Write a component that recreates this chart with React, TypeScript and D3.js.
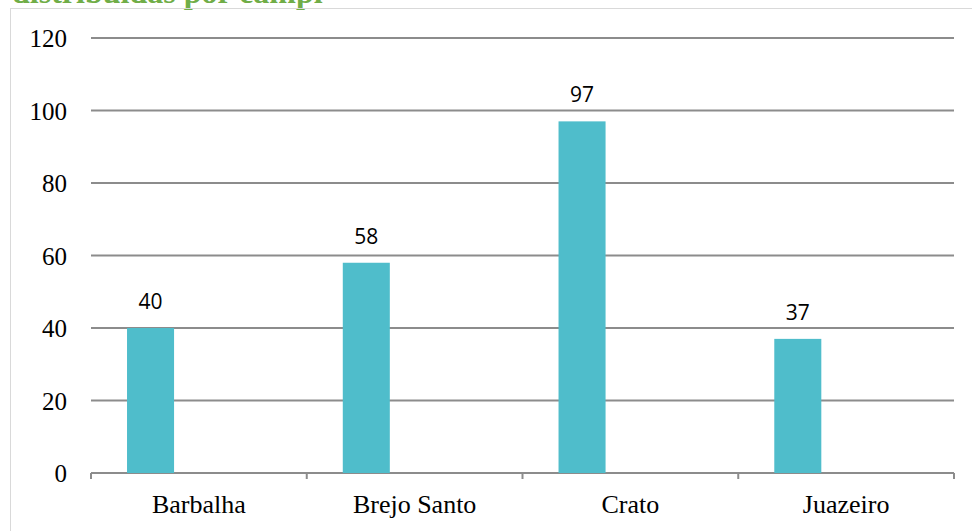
import React from "react";
import * as d3 from "d3";

const categories = ["Barbalha", "Brejo Santo", "Crato", "Juazeiro"];
const values = [40, 58, 97, 37];
const yTicks = [0, 20, 40, 60, 80, 100, 120];
const titleText = "distribuídas por campi";

export default function App() {
  const W = 972, H = 531;
  const left = 91, right = 954, top = 38, bottom = 473;
  const x = d3.scaleBand<string>().domain(categories).range([left, right]);
  const y = d3.scaleLinear().domain([0, 120]).range([bottom, top]);
  const bw = x.bandwidth();
  const barOff = bw * 0.167;
  const barW = bw * 0.218;
  return (
    <svg width={W} height={H} style={{ position: "absolute", left: 0, top: 0, background: "#fff" }}>
      <rect x={0} y={0} width={W} height={H} fill="#fff" />
      <text x={12} y={3} fill="#70ad47" fontFamily="Liberation Serif" fontWeight="bold" fontSize={32}>{titleText}</text>
      <rect x={10.5} y={8.5} width={980} height={540} fill="none" stroke="#d9d9d9" strokeWidth={1} />
      {yTicks.map((t) => (
        <g key={t}>
          <line x1={left} x2={right} y1={y(t)} y2={y(t)} stroke="#8c8c8c" strokeWidth={2} />
          <text x={67} y={y(t) + 9} textAnchor="end" fontFamily="Liberation Serif" fontSize={25} fill="#000">{t}</text>
        </g>
      ))}
      {[...categories.map((c) => x(c)!), right].map((p, i) => (
        <line key={i} x1={p} x2={p} y1={bottom} y2={bottom + 6} stroke="#8c8c8c" strokeWidth={2} />
      ))}
      {categories.map((c, i) => {
        const bx = x(c)! + barOff;
        return (
          <g key={c}>
            <rect x={bx} y={y(values[i])} width={barW} height={bottom - y(values[i])} fill="#4fbdcb" />
            <text x={bx + barW / 2} y={y(values[i]) - 19} textAnchor="middle" fontFamily="Open Sans" fontSize={21} fill="#000">{values[i]}</text>
            <text x={x(c)! + bw / 2} y={513} textAnchor="middle" fontFamily="Liberation Serif" fontSize={26} fill="#000">{c}</text>
          </g>
        );
      })}
    </svg>
  );
}
